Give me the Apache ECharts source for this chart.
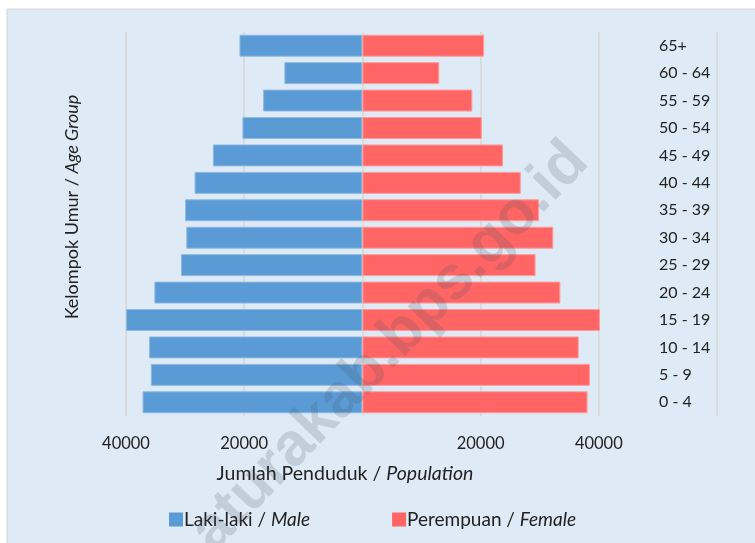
<!DOCTYPE html>
<html>
<head>
<meta charset="utf-8">
<script src="https://cdn.jsdelivr.net/npm/echarts@6/dist/echarts.min.js"></script>
<style>
  html, body { margin: 0; padding: 0; background: #ffffff; }
  #main { width: 755px; height: 543px; }
</style>
</head>
<body>
<div id="main"></div>
<script>
// data kelompok umur (bawah ke atas)
const ageGroups = ['0 - 4', '5 - 9', '10 - 14', '15 - 19', '20 - 24', '25 - 29', '30 - 34',
    '35 - 39', '40 - 44', '45 - 49', '50 - 54', '55 - 59', '60 - 64', '65+'];
const male = [37200, 35800, 36100, 40000, 35200, 30700, 29800,
    30000, 28400, 25300, 20300, 16800, 13200, 20800];
const female = [38100, 38500, 36600, 40200, 33500, 29300, 32300,
    29900, 26800, 23800, 20200, 18600, 13000, 20600];
const xTicks = [-40000, -20000, 20000, 40000];

const font = 'Lato';
const textColor = '#222222';

var chart = echarts.init(document.getElementById('main'));
var option = {
    animation: false,
    textStyle: { fontFamily: font, color: textColor },
    grid: { left: 126, right: 38, top: 32, bottom: 127 },
    graphic: [
        {
            type: 'rect', z: -10, silent: true,
            shape: { x: 7, y: 9, width: 760, height: 540 },
            style: { fill: '#DEEAF6', stroke: '#D4D4D4', lineWidth: 1 }
        },
        {
            type: 'text', x: 345, y: 474,
            style: {
                text: '{n|Jumlah Penduduk / }{i|Population}',
                align: 'center', verticalAlign: 'middle',
                rich: {
                    n: { fontFamily: font, fontSize: 19.5, fill: textColor },
                    i: { fontFamily: font, fontSize: 19.5, fontStyle: 'italic', fill: textColor }
                }
            }
        },
        {
            type: 'text', x: 72, y: 207, rotation: Math.PI / 2,
            style: {
                text: '{n|Kelompok Umur / }{i|Age Group}',
                align: 'center', verticalAlign: 'middle',
                rich: {
                    n: { fontFamily: font, fontSize: 18, fill: textColor },
                    i: { fontFamily: font, fontSize: 18, fontStyle: 'italic', fill: textColor }
                }
            }
        },
        {
            // watermark
            type: 'text', x: 390, y: 347, rotation: 46 * Math.PI / 180, z: 100, silent: true,
            style: {
                text: 'aturakab.bps.go.id',
                align: 'center', verticalAlign: 'middle',
                fontFamily: 'Liberation Sans', fontWeight: 'bold', fontSize: 61,
                fill: 'rgba(70, 80, 90, 0.19)'
            }
        }
    ],
    legend: {
        left: 164, top: 505,
        itemWidth: 14, itemHeight: 14, itemGap: 82,
        icon: 'rect',
        itemStyle: { borderWidth: 0 },
        data: ['Laki-laki / Male', 'Perempuan / Female'],
        formatter: function (name) {
            var p = name.split(' / ');
            return '{n|' + p[0] + ' / }{i|' + p[1] + '}';
        },
        textStyle: {
            padding: [0, 0, 0, -4],
            rich: {
                n: { fontFamily: font, fontSize: 19, color: textColor },
                i: { fontFamily: font, fontSize: 19, fontStyle: 'italic', color: textColor }
            }
        }
    },
    xAxis: {
        type: 'value',
        min: -40000, max: 60000, interval: 20000,
        axisLine: { show: false },
        axisTick: { show: false },
        splitLine: { show: true, lineStyle: { color: '#D6D6D6', width: 1.5 } },
        axisLabel: {
            margin: 19,
            fontFamily: font, fontSize: 16.5, color: textColor,
            formatter: function (v) {
                return xTicks.indexOf(v) >= 0 ? String(Math.abs(v)) : '';
            }
        }
    },
    yAxis: {
        type: 'category',
        data: ageGroups,
        position: 'right',
        axisLine: { show: false },
        axisTick: { show: false },
        axisLabel: {
            inside: true, margin: 58, align: 'left',
            fontFamily: font, fontSize: 16, color: textColor
        }
    },
    series: [
        {
            name: 'Laki-laki / Male',
            type: 'bar', stack: 'pop',
            barCategoryGap: '20%',
            data: male.map(function (v) { return -v; }),
            itemStyle: { color: '#5B9BD5', borderColor: '#8DB9E3', borderWidth: 1 }
        },
        {
            name: 'Perempuan / Female',
            type: 'bar', stack: 'pop',
            barCategoryGap: '20%',
            data: female,
            itemStyle: { color: '#FF6565', borderColor: '#FF9A9A', borderWidth: 1 }
        }
    ]
};
chart.setOption(option);
</script>
</body>
</html>
